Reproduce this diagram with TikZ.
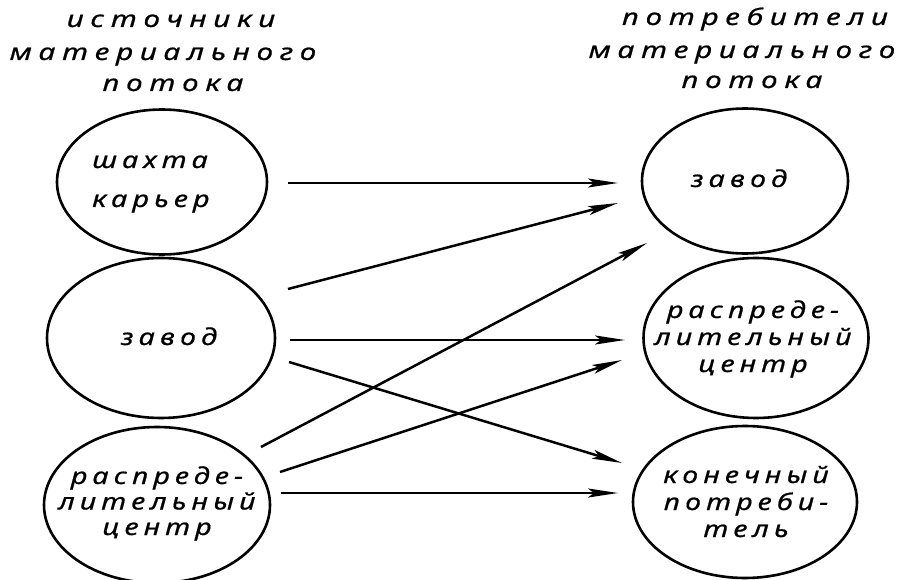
\documentclass[tikz,border=0pt]{standalone}
\usepackage{fontspec}
\usetikzlibrary{arrows.meta,shapes.geometric}
\newfontfamily\headfont[LetterSpace=29,FakeStretch=1.3,FakeBold=0.7]{Noto Sans}
\newfontfamily\bodyfont[LetterSpace=22,FakeStretch=1.25,FakeBold=0.7]{Noto Sans}
\begin{document}
\begin{tikzpicture}[x=1pt,y=-1pt,
  blob/.style={draw,line width=2.6pt,ellipse,inner sep=0pt},
  head/.style={font=\headfont\itshape\fontsize{23}{32}\selectfont,align=center,inner sep=0pt},
  body/.style={font=\bodyfont\itshape\fontsize{23}{26.5}\selectfont,align=center,inner sep=0pt},
  flow/.style={line width=2.5pt,-{Stealth[length=30pt,width=9pt,inset=6pt]}}]
\useasboundingbox (0,0) rectangle (900,580);

% column headings
\node[head,anchor=base] (hl1) at (171,27) {источники};
\node[head,anchor=base] (hl2) at (163,60) {материального};
\node[head,anchor=base] (hl3) at (173,91) {потока};
\node[head,anchor=base] (hr1) at (755,25) {потребители};
\node[head,anchor=base] (hr2) at (742,58) {материального};
\node[head,anchor=base] (hr3) at (752,88) {потока};

% sources (a multi-line node's base is the baseline of its last line)
\node[blob,minimum width=210pt,minimum height=145pt] (s1) at (162,182) {};
\node[blob,minimum width=228pt,minimum height=160pt] (s2) at (161,338) {};
\node[blob,minimum width=226pt,minimum height=156pt] (s3) at (157,505) {};
\node[body,align=left,anchor=base west,font=\bodyfont\itshape\fontsize{23}{39}\selectfont] (s1t) at (92,207) {шахта\\карьер};
\node[body,anchor=base] (s2t) at (169,345) {завод};
\node[body,anchor=base,font=\bodyfont\itshape\fontsize{23}{25.5}\selectfont] (s3t) at (157,535) {распреде-\\лительный\\центр};

% consumers
\node[blob,minimum width=206pt,minimum height=145pt] (d1) at (745,181) {};
\node[blob,minimum width=225pt,minimum height=160pt] (d2) at (756,338) {};
\node[blob,minimum width=224pt,minimum height=152pt] (d3) at (745,502) {};
\node[body,anchor=base] (d1t) at (739,187) {завод};
\node[body,anchor=base,font=\bodyfont\itshape\fontsize{23}{27}\selectfont] (d2t) at (753,372) {распреде-\\лительный\\центр};
\node[body,anchor=base,font=\bodyfont\itshape\fontsize{23}{27}\selectfont] (d3t) at (746,537) {конечный\\потреби-\\тель};

% arrow ends
\coordinate (a1s) at (288,183); \coordinate (a1e) at (618,183);
\coordinate (a2s) at (288,289); \coordinate (a2e) at (618,203);
\coordinate (a3s) at (261,447); \coordinate (a3e) at (647,243);
\coordinate (a4s) at (290,340); \coordinate (a4e) at (625,340);
\coordinate (a5s) at (280,472); \coordinate (a5e) at (622,360);
\coordinate (a6s) at (289,362); \coordinate (a6e) at (622,463);
\coordinate (a7s) at (281,493); \coordinate (a7e) at (618,493);

\foreach \k in {1,...,7} \draw[flow] (a\k s) -- (a\k e);
\end{tikzpicture}
\end{document}
